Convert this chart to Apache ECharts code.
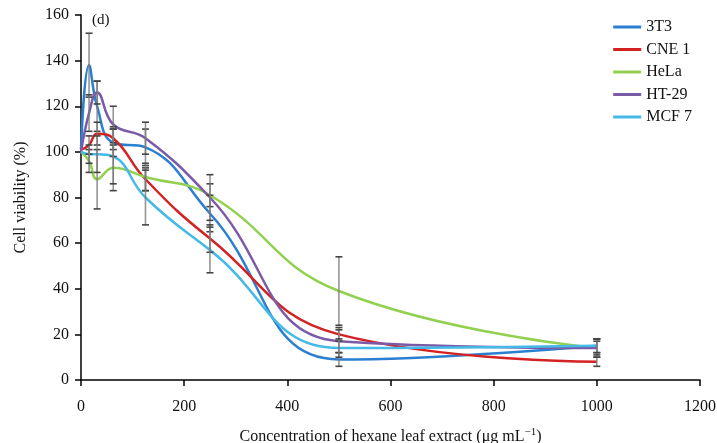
<!DOCTYPE html>
<html><head><meta charset="utf-8">
<script src="https://cdn.jsdelivr.net/npm/echarts@6/dist/echarts.min.js"></script>
<style>html,body{margin:0;padding:0;background:#fff}#c{width:717px;height:443px}</style>
</head><body><div id="c"></div>
<script>
const conc = [0, 15.6, 31.25, 62.5, 125, 250, 500, 1000];
const names = ['3T3', 'CNE 1', 'HeLa', 'HT-29', 'MCF 7'];
const colors = ['#2a7fd0', '#d42222', '#92d050', '#7b5ba8', '#45b9e8'];
const v3T3  = [101, 138, 120, 104, 102, 73, 9, 15];
const vCNE1 = [101, 103, 108, 106, 88, 62, 20, 8];
const vHeLa = [100, 96, 88, 93, 89, 81, 39, 14];
const vHT29 = [100, 117, 126, 112, 106, 80, 17, 14];
const vMCF7 = [100, 99, 99, 98, 80, 57, 14, 15];
const e3T3  = [0, 14, 11, 6, 8, 8, 3, 3];
const eCNE1 = [0, 4, 5, 5, 5, 6, 3, 2];
const eHeLa = [0, 5, 13, 10, 6, 5, 15, 4];
const eHT29 = [0, 8, 5, 8, 7, 10, 5, 3];
const eMCF7 = [0, 4, 8, 12, 12, 10, 4, 3];
const xTicks = [0, 200, 400, 600, 800, 1000, 1200];
const yTicks = [0, 20, 40, 60, 80, 100, 120, 140, 160];

const vals = [v3T3, vCNE1, vHeLa, vHT29, vMCF7];
const errs = [e3T3, eCNE1, eHeLa, eHT29, eMCF7];
const serif = 'Liberation Serif';

const lineSeries = names.map((n, i) => ({
  name: n, type: 'line', smooth: 0.45, symbol: 'none',
  lineStyle: {color: colors[i], width: 2.5}, itemStyle: {color: colors[i]},
  data: conc.map((c, k) => [c, vals[i][k]]), z: 3
}));

const errData = [];
names.forEach((n, i) => conc.forEach((c, k) => {
  if (errs[i][k] > 0) errData.push([c, vals[i][k] - errs[i][k], vals[i][k] + errs[i][k]]);
}));

const errSeries = {
  type: 'custom', z: 4, silent: true,
  renderItem: function (params, api) {
    const x = api.value(0);
    const lo = api.coord([x, api.value(1)]);
    const hi = api.coord([x, api.value(2)]);
    const w = 3.5;
    const st = {stroke: '#7a7a7a', lineWidth: 1.6, opacity: 0.8};
    return {type: 'group', children: [
      {type: 'line', shape: {x1: lo[0], y1: lo[1], x2: hi[0], y2: hi[1]}, style: st},
      {type: 'line', shape: {x1: lo[0]-w, y1: lo[1], x2: lo[0]+w, y2: lo[1]}, style: {stroke: '#444', lineWidth: 1.6}},
      {type: 'line', shape: {x1: hi[0]-w, y1: hi[1], x2: hi[0]+w, y2: hi[1]}, style: {stroke: '#444', lineWidth: 1.6}}
    ]};
  },
  encode: {x: 0, y: [1, 2]},
  data: errData
};

const chart = echarts.init(document.getElementById('c'));
chart.setOption({
  animation: false,
  backgroundColor: '#fff',
  grid: {left: 81, right: 17, top: 15, bottom: 63, outerBoundsMode: 'none', containLabel: false},
  legend: {
    data: names, orient: 'vertical', right: 20, top: 14, itemGap: 6.5,
    icon: 'rect', itemWidth: 28, itemHeight: 3,
    textStyle: {fontFamily: serif, fontSize: 16, color: '#111'}
  },
  xAxis: {
    type: 'value', min: xTicks[0], max: xTicks[xTicks.length-1], interval: 200,
    axisLine: {lineStyle: {color: '#000', width: 1.5}},
    axisTick: {show: true, length: 6, lineStyle: {color: '#000', width: 1.5}},
    splitLine: {show: false},
    axisLabel: {fontFamily: serif, fontSize: 16, color: '#111', margin: 19, formatter: v => String(v)},
    name: '{n|Concentration of hexane leaf extract (μg mL}{s|−1}{n|)}',
    nameLocation: 'middle', nameGap: 47,
    nameTextStyle: {rich: {n: {fontFamily: serif, fontSize: 16, color: '#111'}, s: {fontFamily: serif, fontSize: 11, color: '#111', verticalAlign: 'top', padding: [0,0,8,0]}}}
  },
  yAxis: {
    type: 'value', min: yTicks[0], max: yTicks[yTicks.length-1], interval: 20,
    axisLine: {show: true, lineStyle: {color: '#000', width: 1.5}},
    axisTick: {show: true, length: 6, lineStyle: {color: '#000', width: 1.5}},
    splitLine: {show: false},
    axisLabel: {fontFamily: serif, fontSize: 16, color: '#111', margin: 12, formatter: v => String(v)},
    name: 'Cell viability (%)', nameLocation: 'middle', nameGap: 52,
    nameTextStyle: {fontFamily: serif, fontSize: 16, color: '#111'}
  },
  graphic: [{type: 'text', left: 92, top: 13, style: {text: '(d)', font: '15px "Liberation Serif"', fill: '#111'}}],
  series: lineSeries.concat([errSeries])
});
</script></body></html>
